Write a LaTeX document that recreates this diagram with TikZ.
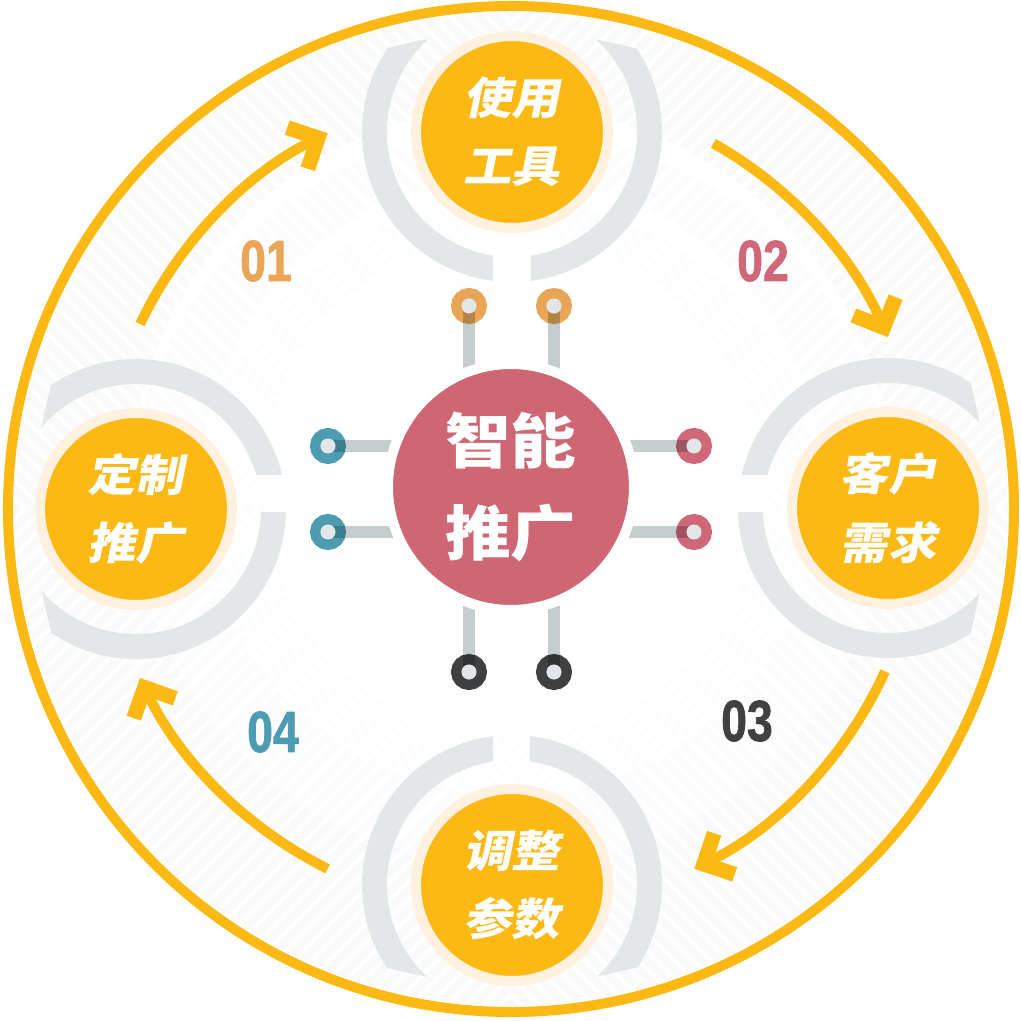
\documentclass[tikz,border=0pt]{standalone}
\usepackage{fontspec}
\newfontfamily\cjkfont{Noto Sans CJK SC}[FakeSlant=0.2,FakeStretch=1.1]
\newfontfamily\hubfont{Noto Sans CJK SC}[FakeStretch=1.1]
\newfontfamily\numfont{Liberation Sans}[FakeStretch=0.8,FakeBold=1.2]
\usetikzlibrary{arrows.meta}

\definecolor{ringyellow}{HTML}{FDB913}
\definecolor{cream}{HTML}{FEF1DF}
\definecolor{arcgray}{HTML}{E3E7E8}
\definecolor{hubred}{HTML}{CF6674}
\definecolor{wiregray}{HTML}{C5CECD}
\definecolor{coregray}{HTML}{E2E6E9}
\definecolor{dotorange}{HTML}{E8A656}
\definecolor{dotteal}{HTML}{4E9CB1}
\definecolor{dotpink}{HTML}{D0687A}
\definecolor{dotdark}{HTML}{404040}

\pgfdeclarelayer{back}
\pgfdeclarelayer{wires}
\pgfsetlayers{back,wires,main}

\begin{document}
\begin{tikzpicture}
	[
	x=0.02cm, y=0.02cm, >=latex,
	%Voreinstellungen
	satnode/.style={circle, fill=ringyellow, draw=cream, line width=0.2cm, minimum size=3.84cm, inner sep=0pt, text=white, align=center, font=\cjkfont\bfseries\fontsize{25}{39}\selectfont},
	hubnode/.style={circle, fill=hubred, draw=white, line width=0.2cm, minimum size=4.92cm, inner sep=0pt, text=white, align=center, font=\hubfont\bfseries\fontsize{34}{52}\selectfont},
	termdot/.style={circle, line width=0.21cm, minimum size=0.51cm, inner sep=0pt},
	dotcore/.style={fill=coregray},
	wireline/.style={draw=wiregray, line width=0.24cm},
	flowarc/.style={draw=ringyellow, line width=0.2cm, -{Straight Barb[length=0.46cm, width=0.92cm, line width=0.3cm]}},
	stripeline/.style={line width=0.16cm},
	numlabel/.style={inner sep=0pt, font=\numfont\bfseries\fontsize{33}{33}\selectfont}
	]
	\useasboundingbox (-511,-513) rectangle (510,508);
	\coordinate (O) at (0,0);
	\coordinate (A) at (0,7);

	\begin{pgfonlayer}{back}
	%Streifen im Hintergrund, nach innen heller
	\foreach \ri/\ro/\s in {190/250/0.5, 250/310/0.9, 310/380/1.3, 380/497/1.8}
	{
	\begin{scope}[even odd rule]
		\clip (0,-1) circle (\ro) (0,21) circle (\ri);
		\clip (-520,0) rectangle (0,520) (0,-520) rectangle (520,0);
		\foreach \c in {-1000,-982,...,1000}
		\draw[stripeline, draw=black!\s] (\c-600,600) -- (\c+600,-600);
	\end{scope}
	\begin{scope}[even odd rule]
		\clip (0,-1) circle (\ro) (0,21) circle (\ri);
		\clip (0,0) rectangle (520,520) (-520,-520) rectangle (0,0);
		\foreach \c in {-1000,-982,...,1000}
		\draw[stripeline, draw=black!\s] (-600,\c-600) -- (600,\c+600);
	\end{scope}
	}

	%grauer Bogen um jeden Kreis
	\begin{scope}
		\clip (O) circle (476);
		\foreach \cx/\cy/\ax/\ay/\bx/\by in {1/376/-18/216/20/376, 1/-377/-18/-377/19/-217, -375/-1/-375/-4/-215/33, 377/0/217/-4/377/33}
		{
		\begin{scope}[even odd rule]
			\clip (-520,-520) rectangle (520,520) (\ax,\ay) rectangle (\bx,\by);
			\fill[arcgray] (\cx,\cy) circle (150) (\cx,\cy) circle (125);
		\end{scope}
		}
	\end{scope}

	%aeusserer Ring
	\draw[ringyellow, line width=0.2cm] (0,-1) circle (503);
	\end{pgfonlayer}

	%Pfeile
	\foreach \a/\b in {154.5/116.5, 60.5/23.5, -24.5/-63.5, -116.5/-154.5}
	\draw[flowarc] (A) ++(\a:411) arc[start angle=\a, end angle=\b, radius=411];

	%Kreise
	\node[satnode] (tool) at (1,376) {使用\\工具};
	\node[satnode] (need) at (377,0) {客户\\需求};
	\node[satnode] (tune) at (1,-377) {调整\\参数};
	\node[satnode] (custom) at (-375,-1) {定制\\推广};
	\node[hubnode] (hub) at (0,21) {智能\\推广};

	%Anschluesse
	\begin{scope}[blend mode=multiply]
		\node[termdot, draw=dotorange] (tt1) at (-42,202) {};
		\node[termdot, draw=dotorange] (tt2) at (43,202) {};
		\node[termdot, draw=dotteal] (tl1) at (-183,62) {};
		\node[termdot, draw=dotteal] (tl2) at (-183,-24) {};
		\node[termdot, draw=dotpink] (tr1) at (183,62) {};
		\node[termdot, draw=dotpink] (tr2) at (183,-24) {};
		\node[termdot, draw=dotdark] (tb1) at (-42,-164) {};
		\node[termdot, draw=dotdark] (tb2) at (43,-164) {};
	\end{scope}
	\foreach \t in {tt1,tt2,tl1,tl2,tr1,tr2,tb1,tb2}
	\fill[dotcore] (\t) circle (7.5);

	\begin{pgfonlayer}{wires}
	\foreach \t in {tt1,tt2,tb1,tb2}
	\draw[wireline] (\t.center) -- (\t.center |- hub.center);
	\foreach \t in {tl1,tl2,tr1,tr2}
	\draw[wireline] (\t.center) -- (\t.center -| hub.center);
	\end{pgfonlayer}

	%Nummern
	\node[numlabel, text=dotorange] (n01) at (-245,247) {01};
	\node[numlabel, text=dotpink] (n02) at (252,247) {02};
	\node[numlabel, text=dotdark] (n03) at (236,-213) {03};
	\node[numlabel, text=dotteal] (n04) at (-238,-224) {04};
\end{tikzpicture}
\end{document}
